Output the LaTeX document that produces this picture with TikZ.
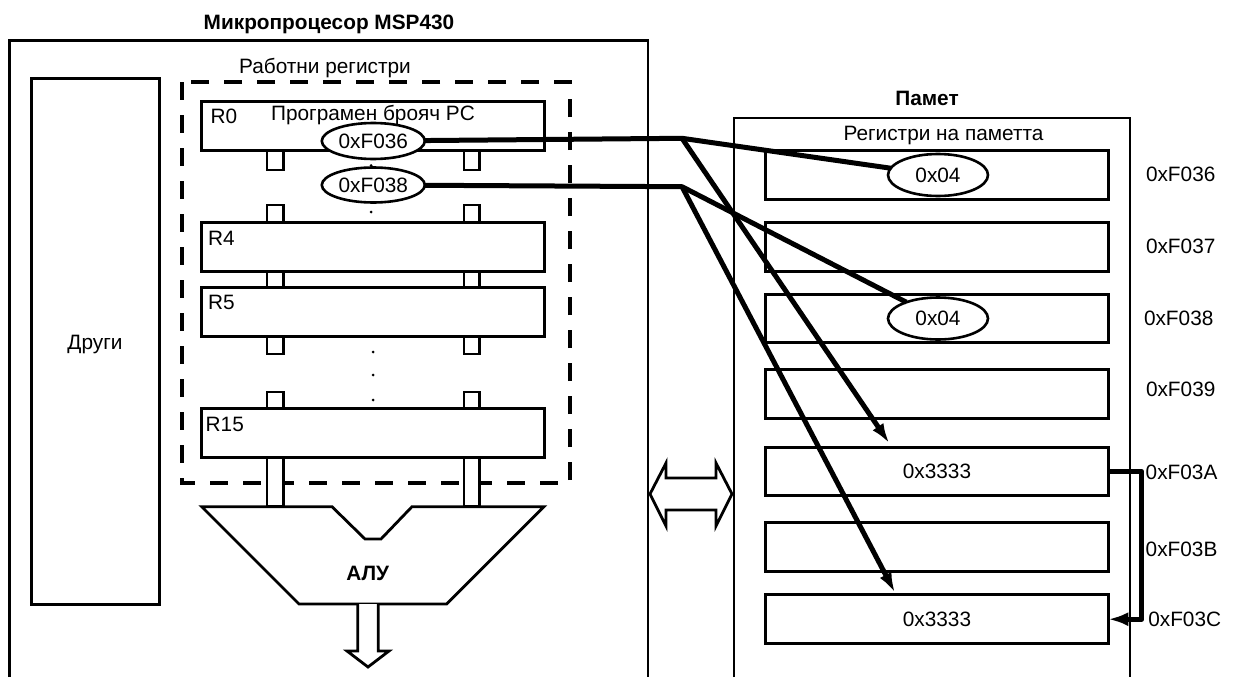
\documentclass[tikz,border=0pt]{standalone}
\usepackage{fontspec}
\setmainfont{Liberation Sans}
\usetikzlibrary{shapes.geometric,arrows.meta}
\begin{document}
\begin{tikzpicture}[x=1pt,y=-1pt,
  every node/.style={inner sep=0pt, outer sep=0pt, font=\fontsize{20.8}{24}\selectfont},
  frame/.style={draw, line width=2.5pt},
  blk/.style={draw, line width=3pt, fill=white, rectangle},
  oval/.style={draw, line width=2.6pt, fill=white, ellipse},
  stub/.style={draw, line width=2.8pt, fill=white, line join=miter},
  dbox/.style={draw, line width=3.2pt, dash pattern=on 18pt off 15pt},
  wire/.style={line width=5pt, line join=round},
  arr/.style={wire, -{Latex[length=20pt,width=13pt]}},
  lbl/.style={anchor=base},
  lblw/.style={anchor=base west},
  ttl/.style={anchor=base, font=\fontsize{20.8}{24}\selectfont\bfseries},
  dot/.style={fill=black, circle, minimum size=3pt}
]
\useasboundingbox (0,0) rectangle (1236,677);

% ---------- microprocessor ----------
\draw[frame] (9.3,677) -- (9.3,40.7) -- (648,40.7) -- (648,677);
\node[ttl] (tmcu) at (329,30) {Микропроцесор MSP430};

\node[blk, minimum width=127.3pt, minimum height=525.3pt] (oth) at (95.35,341.35) {};
\node[lbl] (othl) at (95,349) {Други};

\draw[dbox] (182,82) rectangle (570,483);
\node[lbl] (wrl) at (325,74) {Работни регистри};

\foreach \ya/\yb in {151/170, 205/222.7, 271/287.7, 336.7/354, 392/408.3}{
  \draw[stub] (267,\ya) rectangle (283.5,\yb);
  \draw[stub] (464,\ya) rectangle (479.5,\yb);
}
\draw[stub] (267,457.7) rectangle (283.5,506.7);
\draw[stub] (464,457.7) rectangle (479.5,506.7);

\node[blk, minimum width=343pt, minimum height=49pt] (r0) at (372.7,126.3) {};
\node[blk, minimum width=343pt, minimum height=49pt] (r4) at (372.7,246.9) {};
\node[blk, minimum width=343pt, minimum height=49pt] (r5) at (372.7,312.2) {};
\node[blk, minimum width=343pt, minimum height=49pt] (r15) at (372.7,433) {};
\node[lblw] (r0l) at (210.7,123.3) {R0};
\node[lblw] (r4l) at (208,245.7) {R4};
\node[lblw] (r5l) at (208,309.3) {R5};
\node[lblw] (r15l) at (205.7,431.7) {R15};
\node[lbl] (pcl) at (373,120.7) {Програмен брояч PC};

\node[dot] (d1) at (371,165.5) {};
\node[dot] (d2) at (371,212) {};
\node[dot] (d3) at (373,352) {};
\node[dot] (d4) at (373,375) {};
\node[dot] (d5) at (373,400) {};

\node[oval, minimum width=103pt, minimum height=36pt] (pc1) at (373.3,141) {0xF036};
\node[oval, minimum width=103pt, minimum height=35pt] (pc2) at (373.3,185) {0xF038};

% ALU
\draw[stub] (201.7,506.7) -- (332,506.7) -- (365,539) -- (381,539) -- (412,506.7)
  -- (544,506.7) -- (446.7,604) -- (299,604) -- cycle;
\node[ttl] (alu) at (367.7,580) {АЛУ};
\draw[stub] (357.7,604) -- (357.7,651) -- (347,651) -- (368,667) -- (389,651)
  -- (378.3,651) -- (378.3,604);

% bus double arrow
\draw[stub] (650,494) -- (666,463) -- (666,478) -- (716,478) -- (716,463) -- (732,494)
  -- (716,526) -- (716,510) -- (666,510) -- (666,526) -- cycle;

% ---------- memory ----------
\draw[frame] (734,677) -- (734,118) -- (1130,118) -- (1130,677);
\node[ttl] (tmem) at (927,105) {Памет};
\node[lbl] (mrl) at (943.5,140) {Регистри на паметта};

\node[blk, minimum width=342.6pt, minimum height=48.5pt] (c1) at (937,175) {};
\node[blk, minimum width=342.6pt, minimum height=48.5pt] (c2) at (937,247.2) {};
\node[blk, minimum width=342.6pt, minimum height=48.5pt] (c3) at (937,318.7) {};
\node[blk, minimum width=342.6pt, minimum height=48.5pt] (c4) at (937,393.8) {};
\node[blk, minimum width=342.6pt, minimum height=48.5pt] (c5) at (937,471.5) {0x3333};
\node[blk, minimum width=342.6pt, minimum height=48.5pt] (c6) at (937,547) {};
\node[blk, minimum width=342.6pt, minimum height=48.5pt] (c7) at (937,619.2) {0x3333};

\node[oval, minimum width=100pt, minimum height=42pt] (m1) at (938,175) {0x04};
\node[oval, minimum width=100pt, minimum height=42pt] (m2) at (938,318.5) {0x04};

\node[lblw] (ad1) at (1146,181.7) {0xF036};
\node[lblw] (ad2) at (1146,253.3) {0xF037};
\node[lblw] (ad3) at (1144,325) {0xF038};
\node[lblw] (ad4) at (1146,396.7) {0xF039};
\node[lblw] (ad5) at (1145.7,479.3) {0xF03A};
\node[lblw] (ad6) at (1145.7,556.7) {0xF03B};
\node[lblw] (ad7) at (1148.3,626.7) {0xF03C};

% ---------- connectors ----------
\coordinate (j1) at (682,138.3);
\coordinate (j2) at (682,186.7);
\coordinate (a1) at (889.3,443.3);
\coordinate (a2) at (895,592.7);
\draw[wire] (pc1) -- (j1) -- (m1);
\draw[wire] (pc2) -- (j2) -- (m2);
\draw[arr] (j1) -- (a1);
\draw[arr] (j2) -- (a2);
\draw[wire, -{Latex[length=20pt,width=14pt]}] (c5.east) -- ++(33.4,0) |- (c7.east);
\end{tikzpicture}
\end{document}
